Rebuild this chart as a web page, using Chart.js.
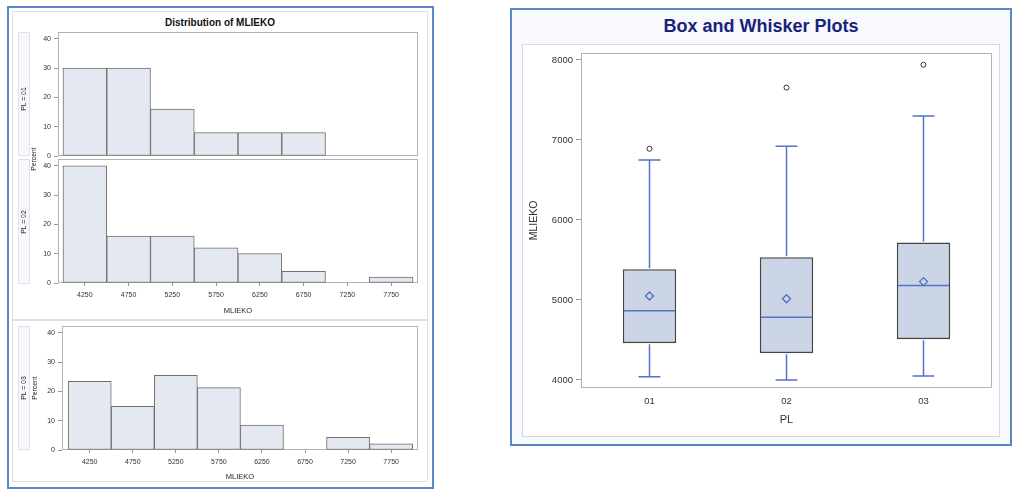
<!DOCTYPE html>
<html><head><meta charset="utf-8">
<script src="https://cdn.jsdelivr.net/npm/chart.js@4.4.1/dist/chart.umd.min.js"></script>
<style>
body{margin:0;background:#fff;width:1023px;height:498px;overflow:hidden;font-family:"Liberation Sans",Arial,sans-serif;position:relative}
.abs{position:absolute;box-sizing:border-box}
canvas{position:absolute}
.vt{position:absolute;transform:translate(-50%,-50%) rotate(-90deg);white-space:nowrap;color:#222;font-size:6.8px;line-height:8px}
</style></head><body>
<!-- left panel -->
<div class="abs" style="left:7px;top:6px;width:427px;height:483px;border:2px solid #5b87c9"></div>
<div class="abs" style="left:12px;top:11px;width:416px;height:309px;border:1px solid #dde0e5"></div>
<div class="abs" style="left:12px;top:320px;width:416px;height:162px;border:1px solid #dde0e5"></div>
<div class="abs" style="left:13px;top:16px;width:414px;text-align:center;font-weight:bold;font-size:10px;line-height:14px;color:#111">Distribution of MLIEKO</div>
<div class="abs" style="left:18px;top:32px;width:12px;height:124px;border:1px solid #dfe2e8;background:#f7f8fb"></div>
<div class="abs" style="left:18px;top:159px;width:12px;height:125px;border:1px solid #dfe2e8;background:#f7f8fb"></div>
<div class="abs" style="left:18px;top:326px;width:12px;height:124px;border:1px solid #dfe2e8;background:#f7f8fb"></div>
<!-- right panel -->
<div class="abs" style="left:510px;top:8px;width:502px;height:438px;border:2px solid #5b87c9;background:#f7f9fd"></div>
<div class="abs" style="left:522px;top:44px;width:478px;height:393px;border:1px solid #d6d9df;background:#fff"></div>
<div class="abs" style="left:511px;top:15px;width:500px;text-align:center;font-weight:bold;font-size:18px;line-height:22px;color:#17237a">Box and Whisker Plots</div>

<canvas id="h1" width="410" height="130" style="left:13px;top:28px"></canvas>
<canvas id="h2" width="410" height="162" style="left:13px;top:157px"></canvas>
<canvas id="h3" width="410" height="163" style="left:13px;top:322px"></canvas>
<canvas id="bx" width="478" height="393" style="left:522px;top:44px"></canvas>

<div class="vt" style="left:24px;top:99px">PL = 01</div>
<div class="vt" style="left:24px;top:222px">PL = 02</div>
<div class="vt" style="left:24px;top:388px">PL = 03</div>
<div class="vt" style="left:34px;top:159px">Percent</div>
<div class="vt" style="left:35px;top:388px">Percent</div>

<script>
// ---------- data ----------
const binCenters = [4250, 4750, 5250, 5750, 6250, 6750, 7250, 7750];
const pctPL01 = [30, 30, 16, 8, 8, 8, 0, 0];
const pctPL02 = [40, 16, 16, 12, 10, 4, 0, 2];
const pctPL03 = [23.4, 14.9, 25.5, 21.3, 8.5, 0, 4.3, 2.1];
const pctTicks = [0, 10, 20, 30, 40];

const groups = ['01', '02', '03'];
const whiskerLow = [4040, 4000, 4050];
const q1 = [4460, 4335, 4510];
const medians = [4865, 4785, 5180];
const q3 = [5385, 5535, 5717];
const whiskerHigh = [6750, 6920, 7300];
const means = [5050, 5015, 5230];
const outliers = [6890, 7655, 7940];
const mlTicks = [4000, 5000, 6000, 7000, 8000];

// ---------- setup ----------
Chart.defaults.font.family = '"Liberation Sans", Arial, sans-serif';
Chart.defaults.color = '#333';

function noPad(s) { s.paddingTop = 0; s.paddingBottom = 0; s.paddingLeft = 0; s.paddingRight = 0; }

const framePlugin = {
  id: 'frame',
  beforeDatasetsDraw(chart) {
    const {ctx, chartArea: a} = chart;
    ctx.save();
    ctx.strokeStyle = '#b0b3b8';
    ctx.lineWidth = 1;
    ctx.strokeRect(Math.round(a.left) + 0.5, Math.round(a.top) + 0.5,
      Math.round(a.right - a.left) - 1, Math.round(a.bottom - a.top) - 1);
    ctx.restore();
  }
};

function histChart(id, values, o) {
  return new Chart(document.getElementById(id), {
    type: 'bar',
    data: {
      datasets: [{
        data: binCenters.map((c, i) => ({x: c, y: values[i]})),
        backgroundColor: '#e4e8f1',
        borderColor: '#707070',
        borderWidth: 1,
        borderSkipped: false,
        barPercentage: 1,
        categoryPercentage: 1
      }]
    },
    options: {
      responsive: false, animation: false, events: [],
      layout: {padding: {top: o.padTop, right: 5, left: 0, bottom: 0}},
      plugins: {legend: {display: false}, tooltip: {enabled: false}},
      scales: {
        x: {
          type: 'linear', min: o.xmin, max: o.xmax, offset: false,
          afterBuildTicks: a => { a.ticks = binCenters.map(v => ({value: v})); },
          ticks: {display: o.showX, font: {size: 7}, color: '#333', padding: 5, autoSkip: false, maxRotation: 0, callback: v => String(v)},
          grid: {display: o.showX, drawTicks: o.showX, offset: false, drawOnChartArea: false, tickLength: 3, color: '#999'},
          border: {display: false},
          title: {display: o.showX, text: 'MLIEKO', font: {size: 7.5}, color: '#222', padding: {top: 2, bottom: 4}},
          afterFit: s => { s.height = o.xh; noPad(s); }
        },
        y: {
          min: 0, max: 42.3,
          afterBuildTicks: a => { a.ticks = pctTicks.map(v => ({value: v})); },
          ticks: {font: {size: 7}, color: '#333', padding: 3, callback: v => String(v)},
          grid: {drawOnChartArea: false, tickLength: 4, color: '#999'},
          border: {display: false},
          afterFit: s => { s.width = o.yw; noPad(s); }
        }
      }
    },
    plugins: [framePlugin]
  });
}

histChart('h1', pctPL01, {padTop: 4, xmin: 3943, xmax: 8057, showX: false, xh: 2, yw: 45});
histChart('h2', pctPL02, {padTop: 2, xmin: 3943, xmax: 8057, showX: true, xh: 36, yw: 45});
histChart('h3', pctPL03, {padTop: 4, xmin: 3928, xmax: 8062, showX: true, xh: 35, yw: 49});

const boxPlugin = {
  id: 'boxExtras',
  afterDatasetDraw(chart, args) {
    if (args.index !== 0) return;
    const {ctx, scales: {y}} = chart;
    const meta = chart.getDatasetMeta(0);
    ctx.save();
    ctx.strokeStyle = '#5273c6';
    ctx.lineWidth = 1.5;
    meta.data.forEach((bar, i) => {
      const x = bar.x, hw = bar.width / 2, cw = hw * 0.41;
      const yq1 = y.getPixelForValue(q1[i]), yq3 = y.getPixelForValue(q3[i]);
      const ylo = y.getPixelForValue(whiskerLow[i]), yhi = y.getPixelForValue(whiskerHigh[i]);
      const ym = y.getPixelForValue(medians[i]);
      ctx.beginPath();
      ctx.moveTo(x, yq1 + 1); ctx.lineTo(x, ylo);
      ctx.moveTo(x - cw, ylo); ctx.lineTo(x + cw, ylo);
      ctx.moveTo(x, yq3 - 1); ctx.lineTo(x, yhi);
      ctx.moveTo(x - cw, yhi); ctx.lineTo(x + cw, yhi);
      ctx.moveTo(x - hw + 1, ym); ctx.lineTo(x + hw - 1, ym);
      ctx.stroke();
    });
    ctx.restore();
  }
};

new Chart(document.getElementById('bx'), {
  type: 'bar',
  data: {
    labels: groups,
    datasets: [
      {type: 'bar', data: groups.map((g, i) => [q1[i], q3[i]]), backgroundColor: '#cbd5e5', borderColor: '#454545',
       borderWidth: 1.6, borderSkipped: false, barPercentage: 0.39, categoryPercentage: 1, order: 3},
      {type: 'line', data: means, showLine: false, pointStyle: 'rectRot', pointRadius: 4,
       pointBorderColor: '#4d6fc4', pointBackgroundColor: 'rgba(0,0,0,0)', pointBorderWidth: 1.3, order: 1},
      {type: 'line', data: outliers, showLine: false, pointStyle: 'circle', pointRadius: 2.5,
       pointBorderColor: '#333', pointBackgroundColor: 'rgba(0,0,0,0)', pointBorderWidth: 1, order: 1}
    ]
  },
  options: {
    responsive: false, animation: false, events: [],
    layout: {padding: {top: 9, right: 8, left: 0, bottom: 0}},
    plugins: {legend: {display: false}, tooltip: {enabled: false}},
    scales: {
      x: {
        offset: true,
        ticks: {font: {size: 9.5}, color: '#333', padding: 8},
        grid: {display: false, drawTicks: false},
        border: {display: false},
        title: {display: true, text: 'PL', font: {size: 11}, color: '#333', padding: {top: 4, bottom: 10}},
        afterFit: s => { s.height = 49; noPad(s); }
      },
      y: {
        min: 3900, max: 8087,
        afterBuildTicks: a => { a.ticks = mlTicks.map(v => ({value: v})); },
        ticks: {font: {size: 9.5}, color: '#333', padding: 3, callback: v => String(v)},
        grid: {drawOnChartArea: false, tickLength: 5, color: '#999'},
        border: {display: false},
        title: {display: true, text: 'MLIEKO', font: {size: 10.5}, color: '#333', padding: {top: 6, bottom: 2}},
        afterFit: s => { s.width = 59; noPad(s); }
      }
    }
  },
  plugins: [framePlugin, boxPlugin]
});
</script>
</body></html>
